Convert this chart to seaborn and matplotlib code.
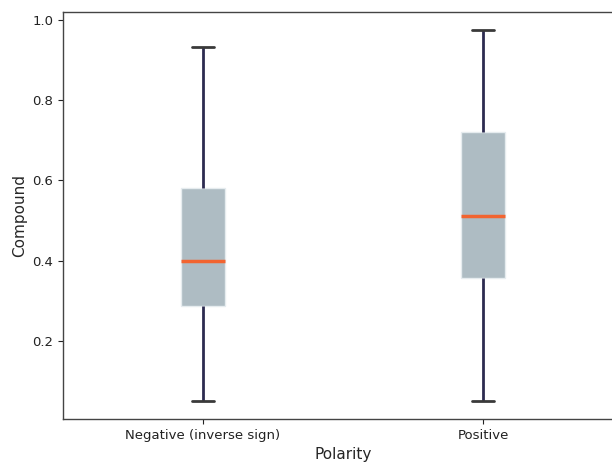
import matplotlib
matplotlib.use("Agg")
import matplotlib.pyplot as plt
import seaborn as sns
import pandas as pd

# Five-number summaries per polarity group: lower whisker, Q1, median, Q3, upper whisker
categories = ["Negative (inverse sign)", "Positive"]
negative_values = [0.05, 0.286, 0.400, 0.582, 0.933]
positive_values = [0.05, 0.356, 0.512, 0.721, 0.975]

df = pd.DataFrame({
    "Polarity": [categories[0]] * len(negative_values) + [categories[1]] * len(positive_values),
    "Compound": negative_values + positive_values,
})

sns.set_style("ticks")
plt.rcParams["font.family"] = ["DejaVu Sans"]

fig = plt.figure(figsize=(6.12, 4.62), dpi=100)
ax = fig.add_axes([63 / 612, 43 / 462, 560 / 612, 407 / 462])

sns.boxplot(
    data=df, x="Polarity", y="Compound", ax=ax,
    width=0.16, whis=(0, 100), showfliers=False,
    boxprops=dict(facecolor="#aebcc3", edgecolor="#e6ecef", linewidth=1.0),
    medianprops=dict(color="#f26430", linewidth=2.5),
    whiskerprops=dict(color="#2d2b50", linewidth=2.0),
    capprops=dict(color="#3a3a3a", linewidth=2.0),
)
ax.set_ylim(0.004, 1.021)
ax.set_xlim(-0.5, 1.5)
ax.set_yticks([0.2, 0.4, 0.6, 0.8, 1.0])
ax.set_yticklabels(["0.2", "0.4", "0.6", "0.8", "1.0"])
ax.tick_params(axis="both", labelsize=9.5, colors="#222222", length=3.5)
ax.set_xlabel("Polarity", fontsize=11)
ax.set_ylabel("Compound", fontsize=11)
for s in ax.spines.values():
    s.set_visible(True)
    s.set_color("#444444")
    s.set_linewidth(1.0)
ax.spines["right"].set_visible(False)

fig.savefig("out.png", dpi=100)
